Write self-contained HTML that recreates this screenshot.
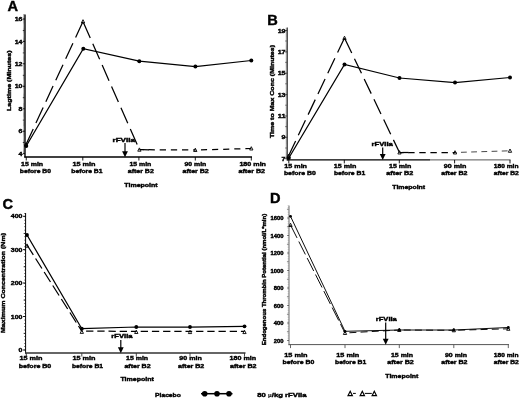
<!DOCTYPE html>
<html><head><meta charset="utf-8"><title>Figure</title>
<style>html,body{margin:0;padding:0;background:#fff;}svg{display:block;filter:grayscale(1) blur(0.35px);}text{font-family:"Liberation Sans",sans-serif;font-weight:bold;fill:#000;stroke:#000;stroke-width:0.4px;}</style>
</head><body>
<svg width="520" height="399" viewBox="0 0 520 399">
<rect width="520" height="399" fill="#fff"/>
<g>
<line x1="23.85" y1="14.52" x2="23.85" y2="154.00" stroke="#000" stroke-width="0.9" stroke-dasharray="0.6 0.520"/>
<line x1="22.80" y1="142.50" x2="24.30" y2="142.50" stroke="#000" stroke-width="0.7"/>
<line x1="22.80" y1="120.10" x2="24.30" y2="120.10" stroke="#000" stroke-width="0.7"/>
<line x1="22.80" y1="97.70" x2="24.30" y2="97.70" stroke="#000" stroke-width="0.7"/>
<line x1="22.80" y1="75.30" x2="24.30" y2="75.30" stroke="#000" stroke-width="0.7"/>
<line x1="22.80" y1="52.90" x2="24.30" y2="52.90" stroke="#000" stroke-width="0.7"/>
<line x1="22.80" y1="30.50" x2="24.30" y2="30.50" stroke="#000" stroke-width="0.7"/>
<line x1="25.00" y1="14.50" x2="25.00" y2="157.60" stroke="#000" stroke-width="1.4"/>
<line x1="22.70" y1="19.00" x2="25.00" y2="19.00" stroke="#000" stroke-width="0.9"/>
<text x="14.70" y="21.10" font-size="5.9" textLength="7.80" lengthAdjust="spacingAndGlyphs" >16</text>
<line x1="22.70" y1="41.40" x2="25.00" y2="41.40" stroke="#000" stroke-width="0.9"/>
<text x="14.70" y="43.50" font-size="5.9" textLength="7.80" lengthAdjust="spacingAndGlyphs" >14</text>
<line x1="22.70" y1="63.80" x2="25.00" y2="63.80" stroke="#000" stroke-width="0.9"/>
<text x="14.70" y="65.90" font-size="5.9" textLength="7.80" lengthAdjust="spacingAndGlyphs" >12</text>
<line x1="22.70" y1="86.30" x2="25.00" y2="86.30" stroke="#000" stroke-width="0.9"/>
<text x="14.70" y="88.40" font-size="5.9" textLength="7.80" lengthAdjust="spacingAndGlyphs" >10</text>
<line x1="22.70" y1="108.80" x2="25.00" y2="108.80" stroke="#000" stroke-width="0.9"/>
<text x="18.60" y="110.90" font-size="5.9" textLength="3.90" lengthAdjust="spacingAndGlyphs" >8</text>
<line x1="22.70" y1="131.20" x2="25.00" y2="131.20" stroke="#000" stroke-width="0.9"/>
<text x="18.60" y="133.30" font-size="5.9" textLength="3.90" lengthAdjust="spacingAndGlyphs" >6</text>
<line x1="22.70" y1="153.70" x2="25.00" y2="153.70" stroke="#000" stroke-width="0.9"/>
<text x="18.60" y="155.80" font-size="5.9" textLength="3.90" lengthAdjust="spacingAndGlyphs" >4</text>
<line x1="24.30" y1="157.00" x2="252.00" y2="157.00" stroke="#000" stroke-width="1.4"/>
<line x1="26.25" y1="157.00" x2="26.25" y2="160.50" stroke="#000" stroke-width="0.9"/>
<line x1="82.80" y1="157.00" x2="82.80" y2="160.50" stroke="#000" stroke-width="0.9"/>
<line x1="138.90" y1="157.00" x2="138.90" y2="160.50" stroke="#000" stroke-width="0.9"/>
<line x1="195.30" y1="157.00" x2="195.30" y2="160.50" stroke="#000" stroke-width="0.9"/>
<line x1="251.30" y1="157.00" x2="251.30" y2="160.50" stroke="#000" stroke-width="0.9"/>
<text x="21.00" y="165.50" font-size="5.95" textLength="22.10" lengthAdjust="spacingAndGlyphs" >15 min</text>
<text x="72.50" y="165.50" font-size="5.95" textLength="23.00" lengthAdjust="spacingAndGlyphs" >15 min</text>
<text x="129.40" y="165.50" font-size="5.95" textLength="21.90" lengthAdjust="spacingAndGlyphs" >15 min</text>
<text x="184.50" y="165.50" font-size="5.95" textLength="21.80" lengthAdjust="spacingAndGlyphs" >90 min</text>
<text x="239.40" y="165.50" font-size="5.95" textLength="26.60" lengthAdjust="spacingAndGlyphs" >180 min</text>
<text x="19.75" y="173.00" font-size="5.95" textLength="31.25" lengthAdjust="spacingAndGlyphs" >before B0</text>
<text x="71.30" y="173.00" font-size="5.95" textLength="31.20" lengthAdjust="spacingAndGlyphs" >before B1</text>
<text x="127.80" y="173.00" font-size="5.95" textLength="26.00" lengthAdjust="spacingAndGlyphs" >after B2</text>
<text x="182.50" y="173.00" font-size="5.95" textLength="26.30" lengthAdjust="spacingAndGlyphs" >after B2</text>
<text x="238.50" y="173.00" font-size="5.95" textLength="26.50" lengthAdjust="spacingAndGlyphs" >after B2</text>
<text x="124.30" y="186.80" font-size="5.95" textLength="33.40" lengthAdjust="spacingAndGlyphs" >Timepoint</text>
<text transform="translate(10.50,111.00) rotate(-90)" x="0" y="0" font-size="5.95" textLength="60.50" lengthAdjust="spacingAndGlyphs">Lagtime (Minutes)</text>
<text x="7.40" y="10.50" font-size="14.6" stroke-width="0">A</text>
<line x1="26.00" y1="144.50" x2="83.00" y2="21.50" stroke="#000" stroke-width="1.25" stroke-dasharray="17.20 6.40" stroke-dashoffset="0.00"/>
<line x1="83.00" y1="21.50" x2="139.40" y2="149.70" stroke="#000" stroke-width="1.25" stroke-dasharray="17.00 6.30" stroke-dashoffset="22.30"/>
<line x1="139.40" y1="149.70" x2="195.30" y2="150.00" stroke="#000" stroke-width="1.25" stroke-dasharray="6.30 4.85" stroke-dashoffset="2.00"/>
<line x1="195.30" y1="150.00" x2="251.30" y2="148.50" stroke="#000" stroke-width="1.25" stroke-dasharray="6.10 5.00" stroke-dashoffset="5.40"/>
<line x1="142.70" y1="149.72" x2="149.00" y2="149.75" stroke="#000" stroke-width="1.25" />
<polyline points="26.25,146.00 83.30,48.70 139.30,61.20 195.40,66.50 251.30,60.50" fill="none" stroke="#000" stroke-width="1.25" />
<path d="M26.00,142.69 L27.65,145.99 L24.35,145.99 Z" fill="none" stroke="#000" stroke-width="0.9" stroke-linejoin="miter"/>
<path d="M83.00,19.68 L84.65,22.98 L81.35,22.98 Z" fill="none" stroke="#000" stroke-width="0.9" stroke-linejoin="miter"/>
<path d="M139.40,147.88 L141.05,151.19 L137.75,151.19 Z" fill="none" stroke="#000" stroke-width="0.9" stroke-linejoin="miter"/>
<path d="M195.30,148.19 L196.95,151.49 L193.65,151.49 Z" fill="none" stroke="#000" stroke-width="0.9" stroke-linejoin="miter"/>
<path d="M251.30,146.69 L252.95,149.99 L249.65,149.99 Z" fill="none" stroke="#000" stroke-width="0.9" stroke-linejoin="miter"/>
<circle cx="26.25" cy="146.00" r="2.0" fill="#000"/>
<circle cx="83.30" cy="48.70" r="2.0" fill="#000"/>
<circle cx="139.30" cy="61.20" r="2.0" fill="#000"/>
<circle cx="195.40" cy="66.50" r="2.0" fill="#000"/>
<circle cx="251.30" cy="60.50" r="2.0" fill="#000"/>
<text x="112.50" y="141.70" font-size="5.95" textLength="22.50" lengthAdjust="spacingAndGlyphs" >rFVIIa</text>
<line x1="125.00" y1="143.00" x2="125.00" y2="154.00" stroke="#000" stroke-width="1.2" />
<path d="M122.10,151.20 L127.90,151.20 L125.00,157.20 Z" fill="#000"/>
</g>
<g>
<line x1="286.30" y1="27.86" x2="286.30" y2="159.00" stroke="#333" stroke-width="0.9" stroke-dasharray="0.6 0.470"/>
<line x1="285.25" y1="148.00" x2="286.75" y2="148.00" stroke="#333" stroke-width="0.7"/>
<line x1="285.25" y1="126.60" x2="286.75" y2="126.60" stroke="#333" stroke-width="0.7"/>
<line x1="285.25" y1="105.20" x2="286.75" y2="105.20" stroke="#333" stroke-width="0.7"/>
<line x1="285.25" y1="83.80" x2="286.75" y2="83.80" stroke="#333" stroke-width="0.7"/>
<line x1="285.25" y1="62.40" x2="286.75" y2="62.40" stroke="#333" stroke-width="0.7"/>
<line x1="285.25" y1="41.00" x2="286.75" y2="41.00" stroke="#333" stroke-width="0.7"/>
<line x1="287.30" y1="27.50" x2="287.30" y2="160.50" stroke="#333" stroke-width="1.1"/>
<line x1="285.10" y1="30.50" x2="287.30" y2="30.50" stroke="#333" stroke-width="0.9"/>
<text x="277.70" y="32.60" font-size="5.9" textLength="7.80" lengthAdjust="spacingAndGlyphs" >19</text>
<line x1="285.10" y1="51.90" x2="287.30" y2="51.90" stroke="#333" stroke-width="0.9"/>
<text x="277.70" y="54.00" font-size="5.9" textLength="7.80" lengthAdjust="spacingAndGlyphs" >17</text>
<line x1="285.10" y1="73.20" x2="287.30" y2="73.20" stroke="#333" stroke-width="0.9"/>
<text x="277.70" y="75.30" font-size="5.9" textLength="7.80" lengthAdjust="spacingAndGlyphs" >15</text>
<line x1="285.10" y1="94.60" x2="287.30" y2="94.60" stroke="#333" stroke-width="0.9"/>
<text x="277.70" y="96.70" font-size="5.9" textLength="7.80" lengthAdjust="spacingAndGlyphs" >13</text>
<line x1="285.10" y1="116.00" x2="287.30" y2="116.00" stroke="#333" stroke-width="0.9"/>
<text x="277.70" y="118.10" font-size="5.9" textLength="7.80" lengthAdjust="spacingAndGlyphs" >11</text>
<line x1="285.10" y1="137.30" x2="287.30" y2="137.30" stroke="#333" stroke-width="0.9"/>
<text x="281.60" y="139.40" font-size="5.9" textLength="3.90" lengthAdjust="spacingAndGlyphs" >9</text>
<line x1="285.10" y1="158.70" x2="287.30" y2="158.70" stroke="#333" stroke-width="0.9"/>
<text x="281.60" y="160.80" font-size="5.9" textLength="3.90" lengthAdjust="spacingAndGlyphs" >7</text>
<line x1="286.75" y1="159.90" x2="430.00" y2="159.90" stroke="#000" stroke-width="1.3"/>
<line x1="430.00" y1="159.90" x2="510.50" y2="159.90" stroke="#555" stroke-width="1.0"/>
<line x1="288.80" y1="159.90" x2="288.80" y2="163.40" stroke="#000" stroke-width="0.9"/>
<line x1="344.30" y1="159.90" x2="344.30" y2="163.40" stroke="#000" stroke-width="0.9"/>
<line x1="399.30" y1="159.90" x2="399.30" y2="163.40" stroke="#000" stroke-width="0.9"/>
<line x1="454.60" y1="159.90" x2="454.60" y2="163.40" stroke="#000" stroke-width="0.9"/>
<line x1="510.00" y1="159.90" x2="510.00" y2="163.40" stroke="#000" stroke-width="0.9"/>
<text x="284.30" y="168.20" font-size="5.95" textLength="22.70" lengthAdjust="spacingAndGlyphs" >15 min</text>
<text x="333.80" y="168.20" font-size="5.95" textLength="22.50" lengthAdjust="spacingAndGlyphs" >15 min</text>
<text x="389.00" y="168.20" font-size="5.95" textLength="22.30" lengthAdjust="spacingAndGlyphs" >15 min</text>
<text x="443.80" y="168.20" font-size="5.95" textLength="22.50" lengthAdjust="spacingAndGlyphs" >90 min</text>
<text x="493.80" y="168.20" font-size="5.95" textLength="24.70" lengthAdjust="spacingAndGlyphs" >180 min</text>
<text x="283.90" y="175.40" font-size="5.95" textLength="31.90" lengthAdjust="spacingAndGlyphs" >before B0</text>
<text x="333.90" y="175.40" font-size="5.95" textLength="31.30" lengthAdjust="spacingAndGlyphs" >before B1</text>
<text x="386.30" y="175.40" font-size="5.95" textLength="26.90" lengthAdjust="spacingAndGlyphs" >after B2</text>
<text x="441.30" y="175.40" font-size="5.95" textLength="26.20" lengthAdjust="spacingAndGlyphs" >after B2</text>
<text x="493.80" y="175.40" font-size="5.95" textLength="25.00" lengthAdjust="spacingAndGlyphs" >after B2</text>
<text x="392.30" y="189.10" font-size="5.95" textLength="32.80" lengthAdjust="spacingAndGlyphs" >Timepoint</text>
<text transform="translate(273.60,138.10) rotate(-90)" x="0" y="0" font-size="5.95" textLength="93.10" lengthAdjust="spacingAndGlyphs">Time to Max Conc (Minutes)</text>
<text x="267.20" y="24.50" font-size="14.6" stroke-width="0">B</text>
<line x1="288.50" y1="156.00" x2="344.50" y2="38.00" stroke="#000" stroke-width="1.25" stroke-dasharray="16.60 6.30" stroke-dashoffset="0.00"/>
<line x1="344.50" y1="38.00" x2="399.50" y2="152.50" stroke="#000" stroke-width="1.25" stroke-dasharray="16.20 6.30" stroke-dashoffset="22.00"/>
<line x1="399.50" y1="152.50" x2="455.00" y2="152.50" stroke="#000" stroke-width="1.25" stroke-dasharray="6.40 4.70" stroke-dashoffset="2.40"/>
<line x1="455.00" y1="152.50" x2="510.00" y2="150.80" stroke="#333" stroke-width="0.9" stroke-dasharray="5.80 4.40" stroke-dashoffset="4.20"/>
<line x1="402.40" y1="152.50" x2="408.60" y2="152.50" stroke="#000" stroke-width="1.25" />
<polyline points="288.80,158.00 344.50,64.50 399.50,78.00 455.00,82.50 510.00,77.50" fill="none" stroke="#000" stroke-width="1.25" />
<path d="M288.50,154.19 L290.15,157.49 L286.85,157.49 Z" fill="none" stroke="#000" stroke-width="0.9" stroke-linejoin="miter"/>
<path d="M344.50,36.19 L346.15,39.48 L342.85,39.48 Z" fill="none" stroke="#000" stroke-width="0.9" stroke-linejoin="miter"/>
<path d="M399.50,150.69 L401.15,153.99 L397.85,153.99 Z" fill="none" stroke="#000" stroke-width="0.9" stroke-linejoin="miter"/>
<path d="M455.00,150.69 L456.65,153.99 L453.35,153.99 Z" fill="none" stroke="#000" stroke-width="0.9" stroke-linejoin="miter"/>
<path d="M510.00,148.99 L511.65,152.29 L508.35,152.29 Z" fill="none" stroke="#000" stroke-width="0.9" stroke-linejoin="miter"/>
<circle cx="288.80" cy="158.00" r="2.0" fill="#000"/>
<circle cx="344.50" cy="64.50" r="2.0" fill="#000"/>
<circle cx="399.50" cy="78.00" r="2.0" fill="#000"/>
<circle cx="455.00" cy="82.50" r="2.0" fill="#000"/>
<circle cx="510.00" cy="77.50" r="2.0" fill="#000"/>
<text x="371.50" y="146.20" font-size="5.95" textLength="21.30" lengthAdjust="spacingAndGlyphs" >rFVIIa</text>
<line x1="382.70" y1="147.50" x2="382.70" y2="156.90" stroke="#000" stroke-width="1.2" />
<path d="M379.80,154.10 L385.60,154.10 L382.70,160.10 Z" fill="#000"/>
</g>
<g>
<line x1="24.65" y1="213.17" x2="24.65" y2="350.30" stroke="#000" stroke-width="0.9" stroke-dasharray="0.6 2.730"/>
<line x1="23.60" y1="333.35" x2="25.10" y2="333.35" stroke="#000" stroke-width="0.7"/>
<line x1="23.60" y1="300.05" x2="25.10" y2="300.05" stroke="#000" stroke-width="0.7"/>
<line x1="23.60" y1="266.75" x2="25.10" y2="266.75" stroke="#000" stroke-width="0.7"/>
<line x1="23.60" y1="233.45" x2="25.10" y2="233.45" stroke="#000" stroke-width="0.7"/>
<line x1="25.60" y1="213.00" x2="25.60" y2="353.60" stroke="#000" stroke-width="1.0"/>
<line x1="23.00" y1="216.30" x2="25.60" y2="216.30" stroke="#000" stroke-width="0.9"/>
<text x="10.80" y="218.40" font-size="5.9" textLength="11.70" lengthAdjust="spacingAndGlyphs" >400</text>
<line x1="23.00" y1="249.60" x2="25.60" y2="249.60" stroke="#000" stroke-width="0.9"/>
<text x="10.80" y="251.70" font-size="5.9" textLength="11.70" lengthAdjust="spacingAndGlyphs" >300</text>
<line x1="23.00" y1="283.00" x2="25.60" y2="283.00" stroke="#000" stroke-width="0.9"/>
<text x="10.80" y="285.10" font-size="5.9" textLength="11.70" lengthAdjust="spacingAndGlyphs" >200</text>
<line x1="23.00" y1="316.50" x2="25.60" y2="316.50" stroke="#000" stroke-width="0.9"/>
<text x="10.80" y="318.60" font-size="5.9" textLength="11.70" lengthAdjust="spacingAndGlyphs" >100</text>
<line x1="23.00" y1="350.00" x2="25.60" y2="350.00" stroke="#000" stroke-width="0.9"/>
<text x="18.60" y="352.10" font-size="5.9" textLength="3.90" lengthAdjust="spacingAndGlyphs" >0</text>
<line x1="25.10" y1="353.00" x2="245.50" y2="353.00" stroke="#333" stroke-width="1.35"/>
<line x1="26.30" y1="353.00" x2="26.30" y2="356.50" stroke="#333" stroke-width="0.9"/>
<line x1="81.80" y1="353.00" x2="81.80" y2="356.50" stroke="#333" stroke-width="0.9"/>
<line x1="136.30" y1="353.00" x2="136.30" y2="356.50" stroke="#333" stroke-width="0.9"/>
<line x1="190.00" y1="353.00" x2="190.00" y2="356.50" stroke="#333" stroke-width="0.9"/>
<line x1="244.50" y1="353.00" x2="244.50" y2="356.50" stroke="#333" stroke-width="0.9"/>
<text x="19.50" y="360.20" font-size="5.95" textLength="23.00" lengthAdjust="spacingAndGlyphs" >15 min</text>
<text x="72.50" y="360.20" font-size="5.95" textLength="23.00" lengthAdjust="spacingAndGlyphs" >15 min</text>
<text x="126.00" y="360.20" font-size="5.95" textLength="22.10" lengthAdjust="spacingAndGlyphs" >15 min</text>
<text x="179.30" y="360.20" font-size="5.95" textLength="22.50" lengthAdjust="spacingAndGlyphs" >90 min</text>
<text x="229.60" y="360.20" font-size="5.95" textLength="26.60" lengthAdjust="spacingAndGlyphs" >180 min</text>
<text x="18.80" y="367.50" font-size="5.95" textLength="32.50" lengthAdjust="spacingAndGlyphs" >before B0</text>
<text x="72.00" y="367.50" font-size="5.95" textLength="31.00" lengthAdjust="spacingAndGlyphs" >before B1</text>
<text x="124.40" y="367.50" font-size="5.95" textLength="26.20" lengthAdjust="spacingAndGlyphs" >after B2</text>
<text x="178.00" y="367.50" font-size="5.95" textLength="26.30" lengthAdjust="spacingAndGlyphs" >after B2</text>
<text x="230.00" y="367.50" font-size="5.95" textLength="26.50" lengthAdjust="spacingAndGlyphs" >after B2</text>
<text x="120.40" y="381.00" font-size="5.95" textLength="33.40" lengthAdjust="spacingAndGlyphs" >Timepoint</text>
<text transform="translate(5.25,333.00) rotate(-90)" x="0" y="0" font-size="5.95" textLength="100.00" lengthAdjust="spacingAndGlyphs">Maximum Concentration (Nm)</text>
<text x="2.50" y="208.70" font-size="14.6" stroke-width="0">C</text>
<line x1="27.00" y1="245.00" x2="81.80" y2="331.20" stroke="#000" stroke-width="1.25" stroke-dasharray="11.80 4.20" stroke-dashoffset="0.00"/>
<line x1="81.80" y1="331.20" x2="136.30" y2="331.30" stroke="#000" stroke-width="1.25" stroke-dasharray="7.30 3.90" stroke-dashoffset="6.90"/>
<line x1="136.30" y1="331.30" x2="190.00" y2="331.40" stroke="#000" stroke-width="1.25" stroke-dasharray="7.30 3.90" stroke-dashoffset="6.80"/>
<line x1="190.00" y1="331.40" x2="244.50" y2="331.40" stroke="#000" stroke-width="1.25" stroke-dasharray="7.30 3.90" stroke-dashoffset="5.10"/>
<polyline points="27.00,235.00 81.80,328.70 136.30,327.00 190.00,327.00 244.50,326.30" fill="none" stroke="#000" stroke-width="1.25" />
<path d="M27.00,243.88 L28.65,247.19 L25.35,247.19 Z" fill="none" stroke="#000" stroke-width="0.9" stroke-linejoin="miter"/>
<path d="M81.80,330.08 L83.45,333.38 L80.15,333.38 Z" fill="none" stroke="#000" stroke-width="0.9" stroke-linejoin="miter"/>
<path d="M136.30,330.19 L137.95,333.49 L134.65,333.49 Z" fill="none" stroke="#000" stroke-width="0.9" stroke-linejoin="miter"/>
<path d="M190.00,330.28 L191.65,333.58 L188.35,333.58 Z" fill="none" stroke="#000" stroke-width="0.9" stroke-linejoin="miter"/>
<path d="M244.50,330.28 L246.15,333.58 L242.85,333.58 Z" fill="none" stroke="#000" stroke-width="0.9" stroke-linejoin="miter"/>
<circle cx="27.00" cy="235.00" r="1.9" fill="#000"/>
<circle cx="81.80" cy="328.70" r="1.9" fill="#000"/>
<circle cx="136.30" cy="327.00" r="1.9" fill="#000"/>
<circle cx="190.00" cy="327.00" r="1.9" fill="#000"/>
<circle cx="244.50" cy="326.30" r="1.9" fill="#000"/>
<text x="111.30" y="337.80" font-size="5.95" textLength="21.20" lengthAdjust="spacingAndGlyphs" >rFVIIa</text>
<line x1="120.80" y1="340.00" x2="120.80" y2="350.00" stroke="#000" stroke-width="1.2" />
<path d="M117.90,347.20 L123.70,347.20 L120.80,353.20 Z" fill="#000"/>
</g>
<g>
<line x1="288.15" y1="205.45" x2="288.15" y2="340.80" stroke="#999" stroke-width="0.8" stroke-dasharray="0.6 1.150"/>
<line x1="286.95" y1="331.75" x2="288.55" y2="331.75" stroke="#5a5a5a" stroke-width="0.7"/>
<line x1="286.95" y1="314.25" x2="288.55" y2="314.25" stroke="#5a5a5a" stroke-width="0.7"/>
<line x1="286.95" y1="296.75" x2="288.55" y2="296.75" stroke="#5a5a5a" stroke-width="0.7"/>
<line x1="286.95" y1="279.25" x2="288.55" y2="279.25" stroke="#5a5a5a" stroke-width="0.7"/>
<line x1="286.95" y1="261.75" x2="288.55" y2="261.75" stroke="#5a5a5a" stroke-width="0.7"/>
<line x1="286.95" y1="244.25" x2="288.55" y2="244.25" stroke="#5a5a5a" stroke-width="0.7"/>
<line x1="286.95" y1="226.75" x2="288.55" y2="226.75" stroke="#5a5a5a" stroke-width="0.7"/>
<line x1="286.95" y1="209.25" x2="288.55" y2="209.25" stroke="#5a5a5a" stroke-width="0.7"/>
<line x1="289.00" y1="205.60" x2="289.00" y2="345.20" stroke="#5a5a5a" stroke-width="0.9"/>
<line x1="287.20" y1="218.00" x2="289.00" y2="218.00" stroke="#5a5a5a" stroke-width="0.9"/>
<text x="270.50" y="220.10" font-size="5.6" textLength="13.00" lengthAdjust="spacingAndGlyphs" >1600</text>
<line x1="287.20" y1="235.50" x2="289.00" y2="235.50" stroke="#5a5a5a" stroke-width="0.9"/>
<text x="270.50" y="237.60" font-size="5.6" textLength="13.00" lengthAdjust="spacingAndGlyphs" >1400</text>
<line x1="287.20" y1="253.00" x2="289.00" y2="253.00" stroke="#5a5a5a" stroke-width="0.9"/>
<text x="270.50" y="255.10" font-size="5.6" textLength="13.00" lengthAdjust="spacingAndGlyphs" >1200</text>
<line x1="287.20" y1="270.50" x2="289.00" y2="270.50" stroke="#5a5a5a" stroke-width="0.9"/>
<text x="270.50" y="272.60" font-size="5.6" textLength="13.00" lengthAdjust="spacingAndGlyphs" >1000</text>
<line x1="287.20" y1="288.00" x2="289.00" y2="288.00" stroke="#5a5a5a" stroke-width="0.9"/>
<text x="273.75" y="290.10" font-size="5.6" textLength="9.75" lengthAdjust="spacingAndGlyphs" >800</text>
<line x1="287.20" y1="305.50" x2="289.00" y2="305.50" stroke="#5a5a5a" stroke-width="0.9"/>
<text x="273.75" y="307.60" font-size="5.6" textLength="9.75" lengthAdjust="spacingAndGlyphs" >600</text>
<line x1="287.20" y1="323.00" x2="289.00" y2="323.00" stroke="#5a5a5a" stroke-width="0.9"/>
<text x="273.75" y="325.10" font-size="5.6" textLength="9.75" lengthAdjust="spacingAndGlyphs" >400</text>
<line x1="287.20" y1="340.50" x2="289.00" y2="340.50" stroke="#5a5a5a" stroke-width="0.9"/>
<text x="273.75" y="342.60" font-size="5.6" textLength="9.75" lengthAdjust="spacingAndGlyphs" >200</text>
<line x1="288.55" y1="344.60" x2="509.00" y2="344.60" stroke="#555" stroke-width="1.0"/>
<line x1="290.50" y1="344.60" x2="290.50" y2="348.10" stroke="#555" stroke-width="0.9"/>
<line x1="345.00" y1="344.60" x2="345.00" y2="348.10" stroke="#555" stroke-width="0.9"/>
<line x1="399.30" y1="344.60" x2="399.30" y2="348.10" stroke="#555" stroke-width="0.9"/>
<line x1="453.80" y1="344.60" x2="453.80" y2="348.10" stroke="#555" stroke-width="0.9"/>
<line x1="508.30" y1="344.60" x2="508.30" y2="348.10" stroke="#555" stroke-width="0.9"/>
<text x="284.30" y="357.30" font-size="5.95" textLength="23.20" lengthAdjust="spacingAndGlyphs" >15 min</text>
<text x="336.30" y="357.30" font-size="5.95" textLength="23.00" lengthAdjust="spacingAndGlyphs" >15 min</text>
<text x="391.00" y="357.30" font-size="5.95" textLength="22.00" lengthAdjust="spacingAndGlyphs" >15 min</text>
<text x="445.00" y="357.30" font-size="5.95" textLength="22.00" lengthAdjust="spacingAndGlyphs" >90 min</text>
<text x="493.80" y="357.30" font-size="5.95" textLength="24.70" lengthAdjust="spacingAndGlyphs" >180 min</text>
<text x="282.50" y="364.40" font-size="5.95" textLength="31.80" lengthAdjust="spacingAndGlyphs" >before B0</text>
<text x="335.00" y="364.40" font-size="5.95" textLength="31.30" lengthAdjust="spacingAndGlyphs" >before B1</text>
<text x="387.20" y="364.40" font-size="5.95" textLength="26.60" lengthAdjust="spacingAndGlyphs" >after B2</text>
<text x="441.30" y="364.40" font-size="5.95" textLength="26.20" lengthAdjust="spacingAndGlyphs" >after B2</text>
<text x="493.80" y="364.40" font-size="5.95" textLength="25.00" lengthAdjust="spacingAndGlyphs" >after B2</text>
<text x="385.30" y="378.00" font-size="5.95" textLength="33.10" lengthAdjust="spacingAndGlyphs" >Timepoint</text>
<text transform="translate(266.40,345.20) rotate(-90)" x="0" y="0" font-size="5.0" textLength="131.40" lengthAdjust="spacingAndGlyphs">Endogenous Thrombin Potential  (nmol/L*min)</text>
<text x="270.00" y="202.80" font-size="14.6" stroke-width="0">D</text>
<line x1="290.50" y1="225.00" x2="345.00" y2="333.00" stroke="#000" stroke-width="0.95" stroke-dasharray="14.50 4.00" stroke-dashoffset="0.00"/>
<line x1="345.00" y1="333.00" x2="399.30" y2="330.00" stroke="#000" stroke-width="0.95" stroke-dasharray="7.00 4.20" stroke-dashoffset="6.80"/>
<line x1="399.30" y1="330.00" x2="453.80" y2="330.30" stroke="#000" stroke-width="0.95" stroke-dasharray="7.00 4.20" stroke-dashoffset="6.80"/>
<line x1="453.80" y1="330.30" x2="508.30" y2="328.80" stroke="#000" stroke-width="0.95" stroke-dasharray="7.00 4.20" stroke-dashoffset="6.80"/>
<polyline points="290.50,216.30 345.00,331.30 399.30,330.00 453.80,330.00 508.30,327.50" fill="none" stroke="#000" stroke-width="0.95" />
<path d="M290.50,223.19 L292.15,226.49 L288.85,226.49 Z" fill="none" stroke="#000" stroke-width="0.9" stroke-linejoin="miter"/>
<path d="M345.00,331.19 L346.65,334.49 L343.35,334.49 Z" fill="none" stroke="#000" stroke-width="0.9" stroke-linejoin="miter"/>
<path d="M399.30,328.19 L400.95,331.49 L397.65,331.49 Z" fill="none" stroke="#000" stroke-width="0.9" stroke-linejoin="miter"/>
<path d="M453.80,328.49 L455.45,331.79 L452.15,331.79 Z" fill="none" stroke="#000" stroke-width="0.9" stroke-linejoin="miter"/>
<path d="M508.30,326.99 L509.95,330.29 L506.65,330.29 Z" fill="none" stroke="#000" stroke-width="0.9" stroke-linejoin="miter"/>
<circle cx="290.50" cy="216.30" r="1.4" fill="#000"/>
<circle cx="345.00" cy="331.30" r="1.4" fill="#000"/>
<circle cx="399.30" cy="330.00" r="1.4" fill="#000"/>
<circle cx="453.80" cy="330.00" r="1.4" fill="#000"/>
<circle cx="508.30" cy="327.50" r="1.4" fill="#000"/>
<text x="375.80" y="321.00" font-size="5.95" textLength="21.00" lengthAdjust="spacingAndGlyphs" >rFVIIa</text>
<line x1="385.70" y1="322.50" x2="385.70" y2="341.60" stroke="#000" stroke-width="1.2" />
<path d="M382.80,338.80 L388.60,338.80 L385.70,344.80 Z" fill="#000"/>
</g>
<g>
<text x="155.10" y="397.00" font-size="5.95" textLength="25.70" lengthAdjust="spacingAndGlyphs" >Placebo</text>
<line x1="201.00" y1="393.70" x2="232.50" y2="393.70" stroke="#000" stroke-width="1.5" />
<circle cx="204.70" cy="393.70" r="2.8" fill="#000"/>
<circle cx="217.00" cy="393.70" r="2.8" fill="#000"/>
<circle cx="229.00" cy="393.70" r="2.8" fill="#000"/>
<text x="257.30" y="397.00" font-size="5.95" textLength="49.30" lengthAdjust="spacingAndGlyphs" >80 <tspan font-size="4.6" stroke-width="0.1">&#956;</tspan>/kg rFVIIa</text>
<line x1="353.00" y1="393.40" x2="355.80" y2="393.40" stroke="#000" stroke-width="1.0" />
<line x1="364.80" y1="393.40" x2="371.80" y2="393.40" stroke="#000" stroke-width="1.0" />
<path d="M350.20,391.28 L352.40,395.68 L348.00,395.68 Z" fill="none" stroke="#000" stroke-width="1.15" stroke-linejoin="miter"/>
<path d="M362.30,391.28 L364.50,395.68 L360.10,395.68 Z" fill="none" stroke="#000" stroke-width="1.15" stroke-linejoin="miter"/>
<path d="M374.30,391.28 L376.50,395.68 L372.10,395.68 Z" fill="none" stroke="#000" stroke-width="1.15" stroke-linejoin="miter"/>
</g>
</svg></body></html>
